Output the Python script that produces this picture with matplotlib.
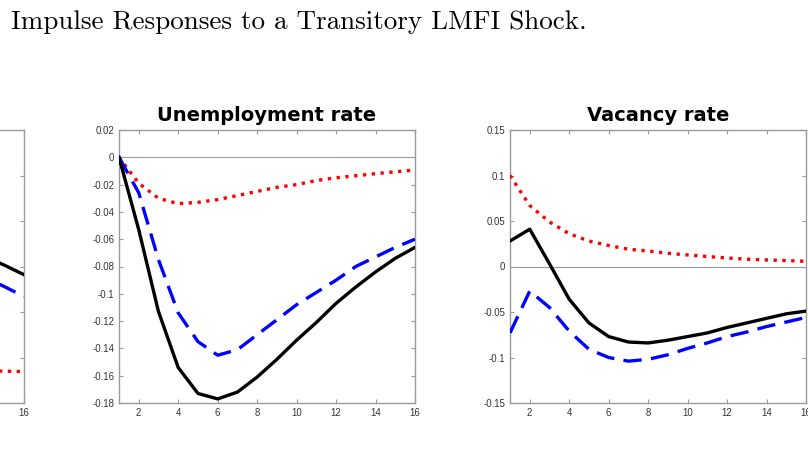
import numpy as np
import matplotlib.pyplot as plt

# horizon (quarters)
periods = np.arange(1, 17)

# Unemployment rate responses
unemp_solid = [0.0, -0.053, -0.113, -0.154, -0.173, -0.177, -0.172, -0.161,
               -0.148, -0.134, -0.121, -0.107, -0.095, -0.084, -0.074, -0.066]
unemp_dashed = [0.0, -0.026, -0.075, -0.114, -0.135, -0.145, -0.141, -0.130,
                -0.119, -0.108, -0.099, -0.090, -0.080, -0.073, -0.066, -0.060]
unemp_dotted = [0.0, -0.019, -0.030, -0.034, -0.033, -0.031, -0.028, -0.025,
                -0.022, -0.020, -0.017, -0.015, -0.0135, -0.012, -0.0106, -0.0093]

# Vacancy rate responses
vac_solid = [0.028, 0.041, 0.003, -0.036, -0.062, -0.077, -0.083, -0.084,
             -0.081, -0.077, -0.073, -0.067, -0.062, -0.057, -0.052, -0.049]
vac_dashed = [-0.073, -0.027, -0.045, -0.071, -0.091, -0.100, -0.104, -0.102,
              -0.097, -0.090, -0.084, -0.077, -0.072, -0.066, -0.061, -0.056]
vac_dotted = [0.100, 0.067, 0.049, 0.036, 0.028, 0.023, 0.019, 0.017,
              0.0145, 0.0127, 0.011, 0.0094, 0.008, 0.0072, 0.0065, 0.0057]

# left panel (mostly outside the crop): only the last periods are visible
left_periods = [14, 15, 16]
left_solid = [-0.277, -0.297, -0.318]
left_dashed = [-0.324, -0.344, -0.366]
left_dotted = [-0.529, -0.530, -0.531]

box_col = '#9a9a9a'
tick_col = '#333333'


def fmt(t):
    s = '%g' % t
    return '0' if s in ('-0', '0') else s


def style_axes(ax, ylim, yticks, zero=True):
    ax.set_xlim(1, 16)
    ax.set_ylim(*ylim)
    ax.set_xticks(np.arange(2, 17, 2))
    ax.set_yticks(yticks)
    ax.set_yticklabels([fmt(t) for t in yticks])
    for s in ax.spines.values():
        s.set_color(box_col)
        s.set_linewidth(1.0)
    ax.tick_params(direction='in', length=3, width=0.8, color=box_col,
                   top=True, right=True, labelsize=6.9, labelcolor=tick_col,
                   pad=3.4)
    for lab in ax.get_xticklabels() + ax.get_yticklabels():
        lab.set_family('Liberation Sans')
    if zero:
        ax.axhline(0, color=box_col, lw=0.8, zorder=1)


def draw_lines(ax, x, solid, dashed, dotted):
    ax.plot(x, dotted, color='r', lw=2.4, ls=':', zorder=3)
    ax.plot(x, dashed, color='b', lw=2.4, dashes=(5.5, 2.8), zorder=3)
    ax.plot(x, solid, color='k', lw=2.4, zorder=4)


fig = plt.figure(figsize=(8.08, 4.55), dpi=100)

w = 296 / 808
h = 273 / 455
b = 52 / 455

ax0 = fig.add_axes([-272 / 808, b, w, h])
ax1 = fig.add_axes([119 / 808, b, w, h])
ax2 = fig.add_axes([510 / 808, b, w, h])

draw_lines(ax0, left_periods, left_solid, left_dashed, left_dotted)
style_axes(ax0, (-0.6, 0.0), np.round(np.arange(-0.6, 0.01, 0.1), 2), zero=False)
# only the right edge of this panel lies inside the picture
ax0.set_yticklabels([])
ax0.set_xticklabels(['' for t in range(2, 16, 2)] + ['16'])

draw_lines(ax1, periods, unemp_solid, unemp_dashed, unemp_dotted)
style_axes(ax1, (-0.18, 0.02), np.round(np.arange(-0.18, 0.021, 0.02), 2))
ax1.set_title('Unemployment rate', fontsize=14, fontweight='bold',
              family='DejaVu Sans', pad=6.5)

draw_lines(ax2, periods, vac_solid, vac_dashed, vac_dotted)
style_axes(ax2, (-0.15, 0.15), np.round(np.arange(-0.15, 0.151, 0.05), 2))
ax2.set_title('Vacancy rate', fontsize=14, fontweight='bold',
              family='DejaVu Sans', pad=6.5)

fig.text(11 / 808, 1 - 29 / 455, 'Impulse Responses to a Transitory LMFI Shock.',
         family='cmr10', fontsize=19.5, va='baseline', ha='left')

fig.savefig('out.png', dpi=100)
